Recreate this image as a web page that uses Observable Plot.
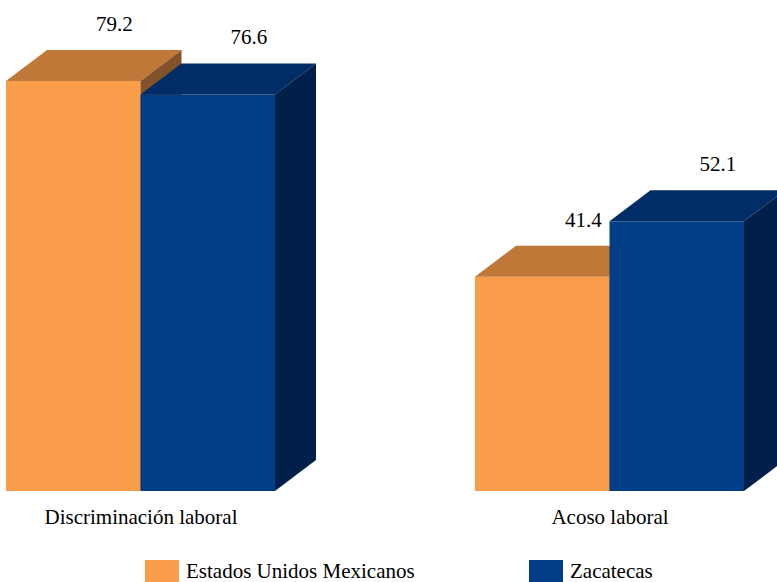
<!DOCTYPE html>
<html><head><meta charset="utf-8">
<script src="https://cdn.jsdelivr.net/npm/d3@7"></script>
<script src="https://cdn.jsdelivr.net/npm/@observablehq/plot@0.6"></script>
<style>
html,body{margin:0;padding:0;background:#fff;overflow:hidden;width:777px;height:582px;}
#chart{position:absolute;left:0;top:0;}
#chart svg, #chart svg text{font-family:"Liberation Serif","Times New Roman",Times,serif !important;}
.legend{position:absolute;top:560px;left:0;width:777px;height:30px;font-family:"Liberation Serif","Times New Roman",Times,serif;font-size:21px;color:#000;}
.item{position:absolute;top:0;display:flex;align-items:flex-start;}
.sw{width:34px;height:26px;margin-right:7px;}
.lab{line-height:21px;margin-top:1px;white-space:nowrap;}
</style></head><body>
<div id="chart"></div>
<div class="legend" id="legend"></div>
<script>
const categories = ["Discriminación laboral", "Acoso laboral"];
const seriesNames = ["Estados Unidos Mexicanos", "Zacatecas"];
const eumValues = [79.2, 41.4];
const zacValues = [76.6, 52.1];
const frontColors = ["#F99D4A", "#003F87"];
const topColors = ["#BF7838", "#002D66"];
const sideColors = ["#82532A", "#00204A"];

const rows = [];
categories.forEach((c, i) => {
  rows.push({category: c, series: seriesNames[0], s: 0, value: eumValues[i]});
  rows.push({category: c, series: seriesNames[1], s: 1, value: zacValues[i]});
});

const depthX = 41, depthY = 31;
const serif = "'Liberation Serif', 'Times New Roman', Times, serif";

function bars3d(index, scales) {
  const x = scales.x, y = scales.y;
  const bw = typeof x.bandwidth === "function" ? x.bandwidth() : scales.scales.x.bandwidth;
  const half = bw / 2;
  const g = d3.create("svg:g");
  const y0 = y(0);
  for (const d of rows) {
    const x0 = x(d.category) + d.s * half, x1 = x0 + half, yt = y(d.value);
    g.append("rect").attr("x", x0).attr("y", yt).attr("width", half).attr("height", y0 - yt).attr("fill", frontColors[d.s]);
    g.append("polygon").attr("points", [[x0, yt], [x0 + depthX, yt - depthY], [x1 + depthX, yt - depthY], [x1, yt]].join(" ")).attr("fill", topColors[d.s]);
    g.append("polygon").attr("points", [[x1, yt], [x1 + depthX, yt - depthY], [x1 + depthX, y0 - depthY], [x1, y0]].join(" ")).attr("fill", sideColors[d.s]);
  }
  for (const d of rows) {
    const x0 = x(d.category) + d.s * half, yt = y(d.value);
    g.append("text")
      .attr("x", x0 + depthX + half / 2)
      .attr("y", yt - depthY - 19)
      .attr("text-anchor", "middle")
      .attr("fill", "#000")
      .attr("font-family", serif)
      .attr("font-size", 21)
      .text(d.value.toFixed(1));
  }
  return g.node();
}

const chart = Plot.plot({
  width: 777,
  height: 552,
  marginLeft: 6,
  marginRight: 33,
  marginTop: 0,
  marginBottom: 61,
  style: {fontFamily: serif, fontSize: "21px", color: "#000", background: "transparent", overflow: "visible"},
  x: {type: "band", domain: categories, paddingInner: 200 / 469, paddingOuter: 0, axis: "bottom", tickSize: 0, tickPadding: 18, label: null},
  y: {type: "linear", domain: [0, 94.85], axis: null},
  marks: [bars3d]
});
document.getElementById("chart").appendChild(chart);

const legend = document.getElementById("legend");
const legendLeft = [145, 529];
seriesNames.forEach((name, i) => {
  const item = document.createElement("div");
  item.className = "item";
  item.style.left = legendLeft[i] + "px";
  const sw = document.createElement("div");
  sw.className = "sw";
  sw.style.background = frontColors[i];
  const lab = document.createElement("span");
  lab.className = "lab";
  lab.textContent = name;
  item.appendChild(sw);
  item.appendChild(lab);
  legend.appendChild(item);
});
</script>
</body></html>
